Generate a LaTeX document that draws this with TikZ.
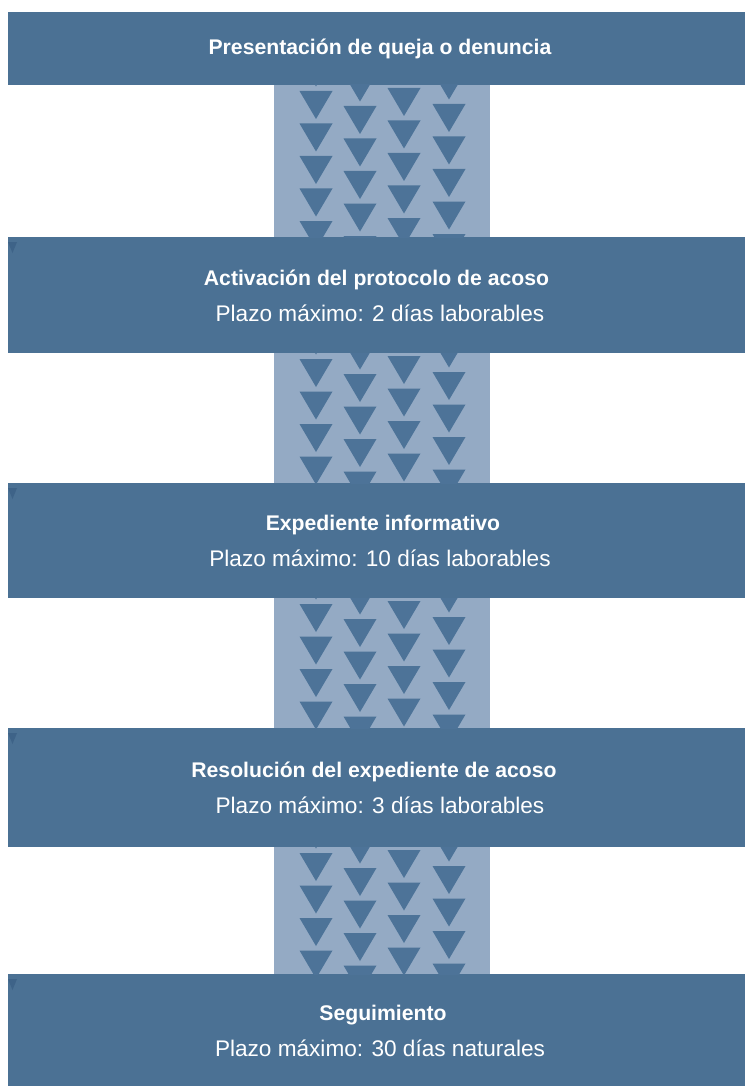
\documentclass[tikz,border=0pt]{standalone}
\usepackage{fontspec}
\setmainfont{Liberation Sans}
\definecolor{boxblue}{HTML}{4B7194}
\definecolor{striplight}{HTML}{94AAC4}
\definecolor{tridark}{HTML}{4D7398}
\definecolor{markdark}{HTML}{3E6388}
\tikzset{
  stagebox/.style={fill=boxblue, draw=none, inner sep=0pt, outer sep=0pt, minimum width=737pt},
  titletext/.style={text=white, anchor=base, inner sep=0pt, font=\bfseries\fontsize{21.2}{24}\selectfont},
  subtext/.style={text=white, anchor=base, inner sep=0pt, font=\fontsize{22.6}{25}\selectfont},
  stripfill/.style={fill=striplight, draw=none},
  chevron/.style={fill=tridark, draw=none},
  cornermark/.style={fill=markdark, draw=none}
}
\begin{document}
\begin{tikzpicture}[x=1pt,y=-1pt]
\useasboundingbox (0,0) rectangle (745,1086);
\fill[white] (0,0) rectangle (745,1086);
% stage boxes
\node[stagebox, minimum height=73pt]  (s1) at (376.5,48.5) {};
\node[stagebox, minimum height=116pt] (s2) at (376.5,295) {};
\node[stagebox, minimum height=115pt] (s3) at (376.5,540.5) {};
\node[stagebox, minimum height=119pt] (s4) at (376.5,787.5) {};
\node[stagebox, minimum height=114pt] (s5) at (376.5,1031) {};
% strip x limits
\coordinate (xl) at (274,0);
\coordinate (xr) at (490,0);
% connector strips with triangle pattern
\foreach \a/\b/\yt/\yb in {s1/s2/85/237, s2/s3/353/483, s3/s4/598/728, s4/s5/847/974} {
  \fill[stripfill] (\a.south -| xl) rectangle (\b.north -| xr);
  \begin{scope}
    \clip (\a.south -| xl) rectangle (\b.north -| xr);
    \foreach \cx/\ph in {316/6, 360/21, 404/3, 449/19} {
      \foreach \k in {-1,...,5} {
        \fill[chevron] ({\cx-16.5},{\yt+\ph+\k*32.5}) -- ({\cx+16.5},{\yt+\ph+\k*32.5}) -- ({\cx},{\yt+\ph+\k*32.5+28}) -- cycle;
      }
    }
  \end{scope}
}
% small marks at top-left of boxes
\foreach \s in {s2,s3,s4,s5} {
  \fill[cornermark] ([shift={(0pt,-5pt)}]\s.north west) -- ++(9pt,0) -- ++(-4.5pt,-11pt) -- cycle;
}
% texts
\node[titletext] (t1) at (380,55) {Presentación de queja o denuncia};
\node[titletext] (t2) at (376.5,285) {Activación del protocolo de acoso};
\node[subtext]   (p2) at (380,321) {Plazo máximo: 2 días laborables};
\node[titletext] (t3) at (383,530.5) {Expediente informativo};
\node[subtext]   (p3) at (380,566.5) {Plazo máximo: 10 días laborables};
\node[titletext] (t4) at (374,777) {Resolución del expediente de acoso};
\node[subtext]   (p4) at (380,813) {Plazo máximo: 3 días laborables};
\node[titletext] (t5) at (383,1020) {Seguimiento};
\node[subtext]   (p5) at (380,1056) {Plazo máximo: 30 días naturales};
\end{tikzpicture}
\end{document}
